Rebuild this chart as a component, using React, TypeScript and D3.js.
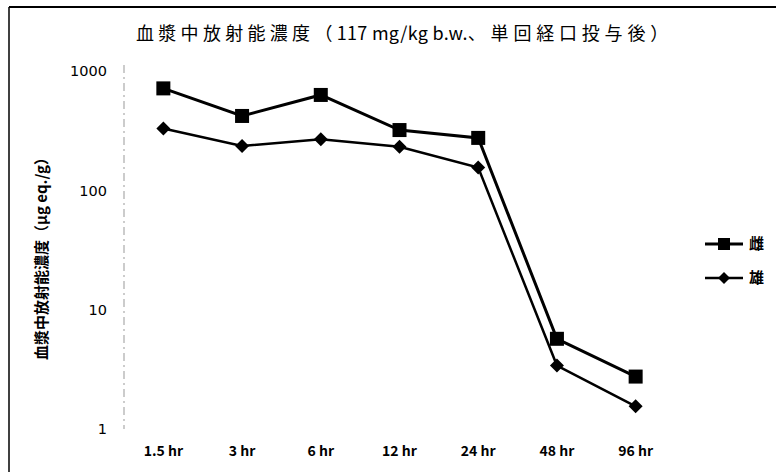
import React from "react";
import * as d3 from "d3";

const categories = ["1.5 hr", "3 hr", "6 hr", "12 hr", "24 hr", "48 hr", "96 hr"];
const femaleValues = [715, 420, 630, 320, 275, 5.7, 2.75];
const maleValues = [330, 235, 268, 232, 155, 3.4, 1.55];
const yTicks = [1, 10, 100, 1000];
const seriesNames = ["雌", "雄"];
const titleParts = ["血漿中放射能濃度（", "117 mg/kg b.w.", "、単回経口投与後）"];
const yTitle = "血漿中放射能濃度（μg eq./g）";

const W = 776;
const H = 472;
const left = 124;
const right = 675;
const top = 71;
const bottom = 429;

export default function App() {
  const x = d3.scaleBand<string>().domain(categories).range([left, right]);
  const y = d3.scaleLog().domain([1, 1000]).range([bottom, top]);
  const cx = (c: string) => (x(c) ?? 0) + x.bandwidth() / 2;
  const line = d3
    .line<number>()
    .x((_, i) => cx(categories[i]))
    .y((d) => y(d));
  const font = "'Noto Sans CJK JP', 'Noto Sans', sans-serif";
  const numFont = "'DejaVu Sans', sans-serif";
  const sq = 14;
  const dm = 7;
  const diamond = (px: number, py: number, r: number) =>
    `M${px},${py - r}L${px + r},${py}L${px},${py + r}L${px - r},${py}Z`;

  return (
    <svg
      width={W}
      height={H}
      style={{ position: "absolute", left: 0, top: 0, background: "#fff" }}
    >
      <rect x={0} y={0} width={W} height={H} fill="#fff" />
      {/* scan frame */}
      <line x1={9} y1={7} x2={W} y2={7} stroke="#000" strokeWidth={2} />
      <line x1={9} y1={7} x2={9} y2={H} stroke="#000" strokeWidth={1.5} />

      <text x={136} y={40} fontFamily={font} fontSize={18} fill="#000">
        <tspan letterSpacing={4.3}>{titleParts[0]}</tspan>
        <tspan letterSpacing={0.3}>{titleParts[1]}</tspan>
        <tspan letterSpacing={4.8}>{titleParts[2]}</tspan>
      </text>

      {/* y axis */}
      <line
        x1={left}
        y1={top - 6}
        x2={left}
        y2={bottom}
        stroke="#999"
        strokeWidth={1}
        strokeDasharray="8 4 2 4"
      />
      {yTicks.map((t) => (
        <text
          key={t}
          x={107}
          y={y(t)}
          dy="0.36em"
          textAnchor="end"
          fontFamily={numFont}
          fontSize={14.5}
          fill="#000"
        >
          {t}
        </text>
      ))}
      <text
        transform={`translate(47,255) rotate(-90)`}
        textAnchor="middle"
        fontFamily={font}
        fontWeight="bold"
        fontSize={15}
        fill="#000"
      >
        {yTitle}
      </text>

      {/* x labels */}
      {categories.map((c) => (
        <text
          key={c}
          x={cx(c)}
          y={451}
          dy="0.36em"
          textAnchor="middle"
          fontFamily={font}
          fontWeight="bold"
          fontSize={14}
          fill="#000"
        >
          {c}
        </text>
      ))}

      {/* series */}
      <path d={line(femaleValues) ?? ""} fill="none" stroke="#000" strokeWidth={3} />
      <path d={line(maleValues) ?? ""} fill="none" stroke="#000" strokeWidth={2.5} />
      {femaleValues.map((v, i) => (
        <rect
          key={"f" + i}
          x={cx(categories[i]) - sq / 2}
          y={y(v) - sq / 2}
          width={sq}
          height={sq}
          fill="#000"
        />
      ))}
      {maleValues.map((v, i) => (
        <path key={"m" + i} d={diamond(cx(categories[i]), y(v), dm)} fill="#000" />
      ))}

      {/* legend */}
      <line x1={705} y1={244} x2={743} y2={244} stroke="#000" strokeWidth={3} />
      <rect x={724 - 6} y={244 - 6} width={12} height={12} fill="#000" />
      <text x={749} y={244} dy="0.36em" fontFamily={font} fontWeight="bold" fontSize={15}>
        {seriesNames[0]}
      </text>
      <line x1={705} y1={278} x2={743} y2={278} stroke="#000" strokeWidth={2.5} />
      <path d={diamond(724, 278, 6)} fill="#000" />
      <text x={749} y={278} dy="0.36em" fontFamily={font} fontWeight="bold" fontSize={15}>
        {seriesNames[1]}
      </text>
    </svg>
  );
}
